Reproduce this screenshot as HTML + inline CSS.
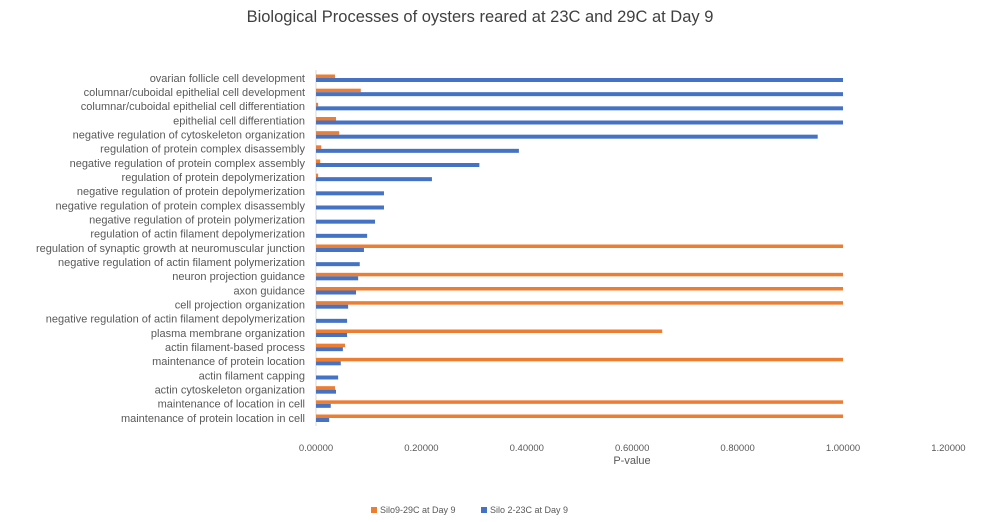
<!DOCTYPE html>
<html><head><meta charset="utf-8"><style>
body{margin:0;background:#fff;}
svg{display:block;font-family:"Liberation Sans",sans-serif;}
</style></head><body>
<svg id="chart" width="985" height="522">
<text x="480" y="22" text-anchor="middle" font-size="16.5" fill="#404040">Biological Processes of oysters reared at 23C and 29C at Day 9</text>
<g id="plot"></g>
<text x="632" y="464" text-anchor="middle" font-size="11" fill="#595959">P-value</text>
<g>
<rect x="371" y="507" width="6" height="6" fill="#ED7D31"/>
<text x="380" y="513" font-size="9" fill="#595959">Silo9-29C at Day 9</text>
<rect x="481" y="507" width="6" height="6" fill="#4472C4"/>
<text x="490" y="513" font-size="9" fill="#595959">Silo 2-23C at Day 9</text>
</g>
</svg>
<script>
const categories=["ovarian follicle cell development","columnar/cuboidal epithelial cell development","columnar/cuboidal epithelial cell differentiation","epithelial cell differentiation","negative regulation of cytoskeleton organization","regulation of protein complex disassembly","negative regulation of protein complex assembly","regulation of protein depolymerization","negative regulation of protein depolymerization","negative regulation of protein complex disassembly","negative regulation of protein polymerization","regulation of actin filament depolymerization","regulation of synaptic growth at neuromuscular junction","negative regulation of actin filament polymerization","neuron projection guidance","axon guidance","cell projection organization","negative regulation of actin filament depolymerization","plasma membrane organization","actin filament-based process","maintenance of protein location","actin filament capping","actin cytoskeleton organization","maintenance of location in cell","maintenance of protein location in cell"];
const silo9=[0.036,0.085,0.004,0.038,0.044,0.01,0.008,0.004,0,0,0,0,1,0,1,1,1,0,0.657,0.055,1,0,0.036,1,1];
const silo2=[1,1,1,1,0.952,0.385,0.31,0.22,0.129,0.129,0.112,0.097,0.091,0.083,0.08,0.076,0.061,0.059,0.059,0.051,0.047,0.042,0.038,0.028,0.025];
const ticks=[0,0.2,0.4,0.6,0.8,1.0,1.2];
const tickLabels=["0.00000","0.20000","0.40000","0.60000","0.80000","1.00000","1.20000"];
const NS="http://www.w3.org/2000/svg";
const g=document.getElementById('plot');
const x0=316,xs=527,yTop=78,step=(418-78)/(categories.length-1);
const X=v=>x0+v*xs, Y=i=>yTop+i*step;
function mk(t,a){const e=document.createElementNS(NS,t);for(const k in a)e.setAttribute(k,a[k]);g.appendChild(e);return e;}
const ax=mk('line',{x1:x0,x2:x0,y1:70,y2:426,stroke:'#d9d9d9'});


ticks.forEach((t,i)=>{const e=mk('text',{x:X(t),y:451,'text-anchor':'middle','font-size':9.5,fill:'#595959'});e.textContent=tickLabels[i];

});
categories.forEach((c,i)=>{const cy=Y(i);
const l=mk('text',{x:305,y:cy+3.8,'text-anchor':'end','font-size':11,fill:'#595959'});l.textContent=c;


const o=mk('rect',{x:x0,y:cy-3.5,width:X(silo9[i])-x0,height:3.5,fill:'#ED7D31'});


const b=mk('rect',{x:x0,y:cy,width:X(silo2[i])-x0,height:4,fill:'#4472C4'});


});
</script>
</body></html>
